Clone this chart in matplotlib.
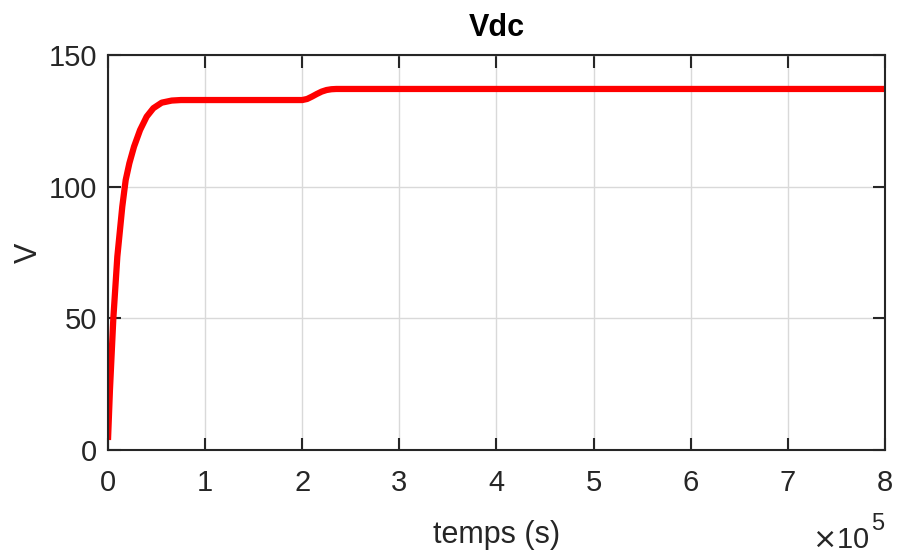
import matplotlib
matplotlib.use("Agg")
import matplotlib.pyplot as plt

# data (time in units of 1e5 s, voltage in V)
t = [0.0, 0.02, 0.055, 0.096, 0.147, 0.168, 0.182, 0.22, 0.268, 0.33, 0.398, 0.467, 0.553,
     0.656, 0.75, 1.0, 1.5, 2.0, 2.05, 2.1, 2.15, 2.2, 2.25, 2.3, 2.35, 2.45, 3.0, 5.0, 8.0]
vdc = [3.8, 22.8, 50, 73.4, 92.4, 98.5, 102.5, 108.9, 115.2, 121.5, 126.6, 129.8, 131.9,
       132.7, 132.9, 132.9, 132.9, 132.9, 133.3, 134.2, 135.2, 136.1, 136.7, 137.0, 137.1, 137.1, 137.1, 137.1, 137.1]
xticks = [0, 1, 2, 3, 4, 5, 6, 7, 8]
yticks = [0, 50, 100, 150]

plt.rcParams['font.family'] = ['Liberation Sans', 'DejaVu Sans']
fs = 21
fig = plt.figure(figsize=(8.98, 5.57), dpi=100)
ax = fig.add_axes([108/898, 1-450/557, (885-108)/898, (450-55)/557])
ax.plot(t, vdc, color='#ff0000', lw=4.5, solid_capstyle='butt', solid_joinstyle='round')
ax.set_xlim(0, 8)
ax.set_ylim(0, 150)
ax.set_xticks(xticks)
ax.set_yticks(yticks)
ax.set_xticklabels([str(v) for v in xticks])
ax.set_yticklabels([str(v) for v in yticks])
ax.grid(True, color='#d9d9d9', lw=1)
ax.set_axisbelow(True)
for s in ax.spines.values():
    s.set_color('#262626')
    s.set_linewidth(1.5)
ax.tick_params(direction='in', length=9, width=1.5, colors='#262626', labelsize=fs,
               top=True, right=True)
ax.tick_params(axis='x', pad=14)
ax.tick_params(axis='y', pad=8)
ax.set_title('Vdc', fontsize=fs + 1, fontweight='bold', color='black', pad=14)
ax.set_xlabel('temps (s)', fontsize=fs + 1, color='#262626', labelpad=16)
ax.set_ylabel('V', fontsize=fs + 1, color='#262626', labelpad=3)
fig.text(870/898, 1-540/557, r'$\times$10', fontsize=fs, color='#262626', va='center', ha='right')
fig.text(871/898, 1-524/557, '5', fontsize=fs - 4, color='#262626', va='center', ha='left')
fig.savefig('out.png', dpi=100)
